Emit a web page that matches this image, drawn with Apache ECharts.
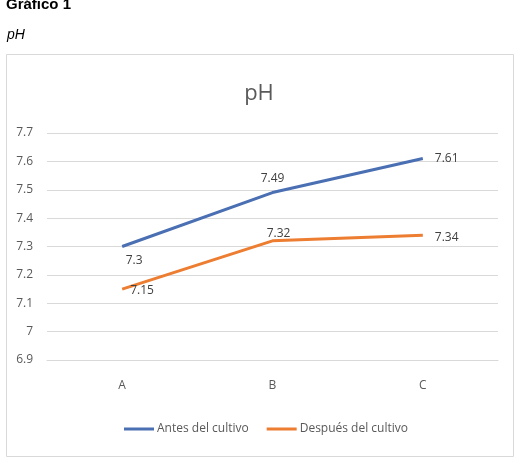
<!DOCTYPE html>
<html>
<head>
<meta charset="utf-8">
<script src="https://cdn.jsdelivr.net/npm/echarts@6/dist/echarts.min.js"></script>
<style>
  html, body { margin: 0; padding: 0; background: #fff; }
  #chart { width: 518px; height: 462px; }
</style>
</head>
<body>
<div id="chart"></div>
<script>
var categories = ['A', 'B', 'C'];
var antes_values = [7.3, 7.49, 7.61];
var despues_values = [7.15, 7.32, 7.34];
var series_names = ['Antes del cultivo', 'Después del cultivo'];

// label placement, Excel-like
var antes_label_pos = ['bottom', 'top', 'right'];
var antes_label_offset = [[12, 0], [0, 0], [4, 0]];
var despues_label_pos = ['right', 'top', 'right'];
var despues_label_offset = [[0, 2], [6, 7], [4, 2]];

function build_data(values, positions, offsets)
{
    return values.map(function (v, i) {
        return { value: v, label: { position: positions[i], offset: offsets[i] } };
    });
}

var chart = echarts.init(document.getElementById('chart'));

var options = {
    backgroundColor: '#fff',
    animation: false,
    color: ['#4a6fb3', '#ed7d31'],
    title: [
        {
            text: 'Gráfico 1',
            left: 1,
            top: -8,
            textStyle: { fontFamily: 'Liberation Sans', fontSize: 15, fontWeight: 'bold', color: '#000' }
        },
        {
            text: 'pH',
            left: 2,
            top: 23,
            textStyle: { fontFamily: 'Liberation Sans', fontSize: 14, fontStyle: 'italic', fontWeight: 'normal', color: '#000' }
        },
        {
            text: 'pH',
            left: 'center',
            top: 78,
            textStyle: { fontFamily: 'Open Sans', fontSize: 22, fontWeight: 'normal', color: '#595959' }
        }
    ],
    graphic: [
        {
            type: 'rect',
            shape: { x: 6.5, y: 54.5, width: 507, height: 402 },
            style: { fill: 'none', stroke: '#d9d9d9', lineWidth: 1 },
            z: -1
        }
    ],
    grid: {
        top: 133,
        bottom: 102,
        left: 47,
        right: 20
    },
    legend: {
        bottom: 22,
        left: 119,
        itemWidth: 30,
        itemHeight: 3,
        itemGap: 18,
        icon: 'rect',
        textStyle: { fontFamily: 'Open Sans', fontSize: 12, color: '#595959', padding: [0, 0, 0, -2] },
        data: series_names
    },
    xAxis: {
        type: 'category',
        data: categories,
        axisLine: { lineStyle: { color: '#d9d9d9' } },
        axisTick: { show: false },
        axisLabel: { margin: 20, fontFamily: 'Open Sans', fontSize: 12, color: '#595959' }
    },
    yAxis: {
        type: 'value',
        min: 6.9,
        max: 7.7,
        interval: 0.1,
        axisLine: { show: false },
        axisTick: { show: false },
        axisLabel: {
            margin: 14,
            fontFamily: 'Open Sans',
            fontSize: 12,
            color: '#595959',
            formatter: function (v) { return String(Math.round(v * 10) / 10); }
        },
        splitLine: { lineStyle: { color: '#d9d9d9' } }
    },
    series: [
        {
            name: series_names[0],
            type: 'line',
            symbol: 'circle',
            symbolSize: 0,
            showSymbol: true,
            lineStyle: { width: 3 },
            label: { show: true, fontFamily: 'Open Sans', fontSize: 12, color: '#404040', distance: 8 },
            data: build_data(antes_values, antes_label_pos, antes_label_offset)
        },
        {
            name: series_names[1],
            type: 'line',
            symbol: 'circle',
            symbolSize: 0,
            showSymbol: true,
            lineStyle: { width: 3 },
            label: { show: true, fontFamily: 'Open Sans', fontSize: 12, color: '#404040', distance: 8 },
            data: build_data(despues_values, despues_label_pos, despues_label_offset)
        }
    ]
};

chart.setOption(options);
</script>
</body>
</html>
